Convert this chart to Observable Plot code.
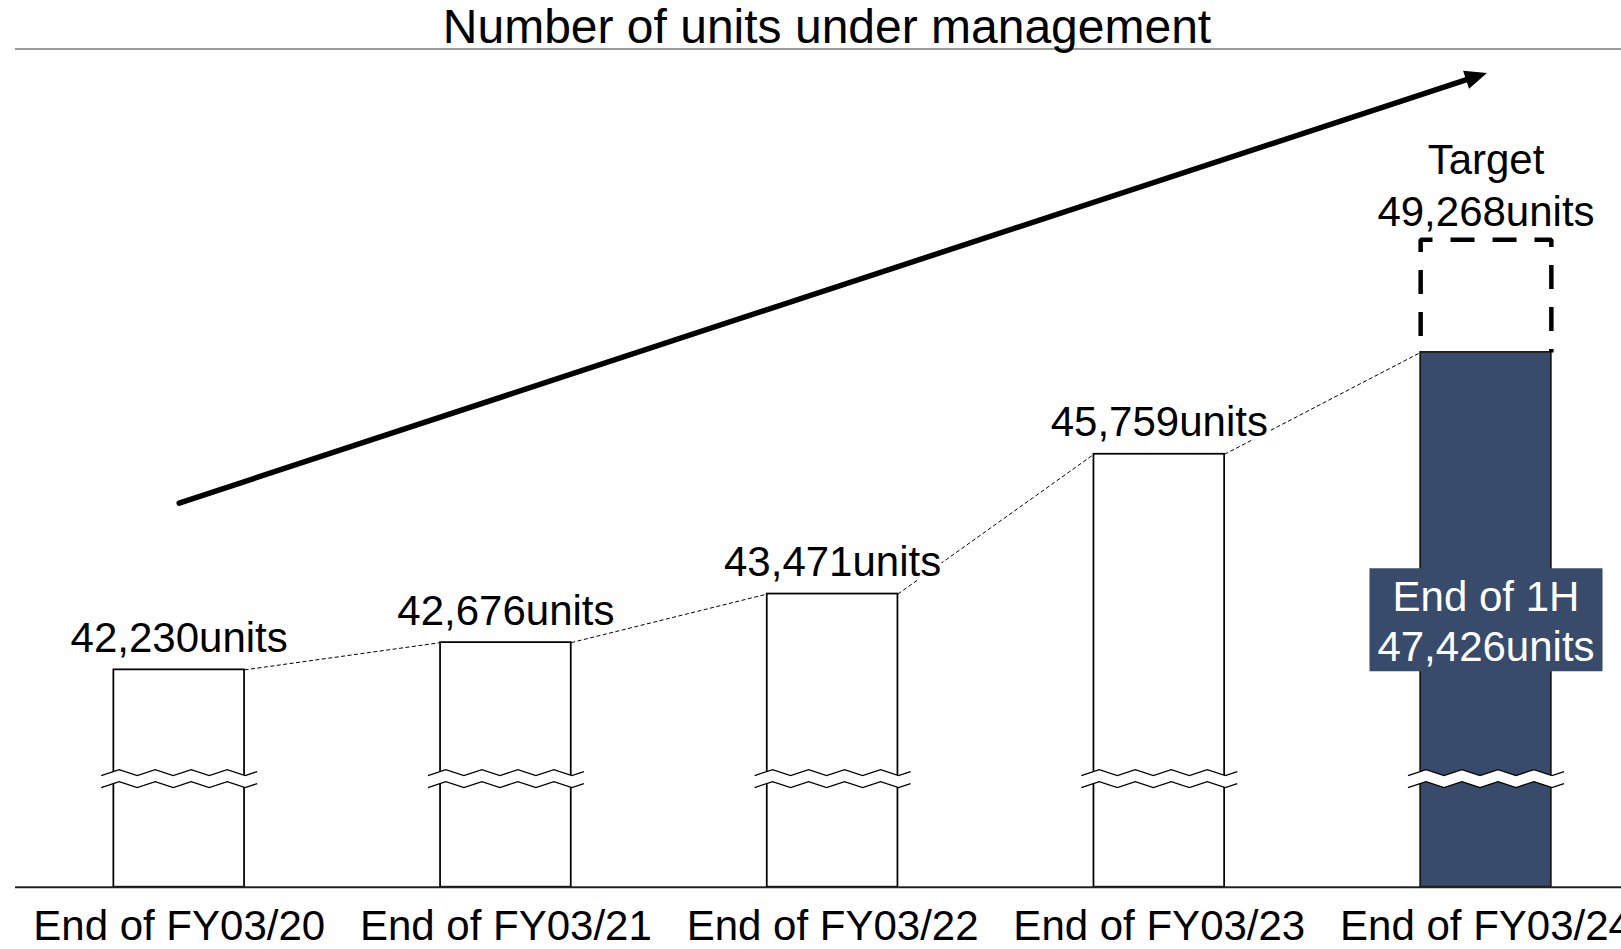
<!DOCTYPE html>
<html>
<head>
<meta charset="utf-8">
<script src="https://cdn.jsdelivr.net/npm/d3@7"></script>
<script src="https://cdn.jsdelivr.net/npm/@observablehq/plot@0.6"></script>
<style>
  html, body { margin: 0; padding: 0; background: #fff; overflow: hidden; width: 1621px; height: 949px; }
  #title {
    box-sizing: content-box;
    height: 45px; padding-top: 3px; padding-left: 18px; margin-left: 15px;
    border-bottom: 2px solid #9b9b9b;
    font-family: "Liberation Sans", Arial, sans-serif; font-size: 48px; line-height: 48px;
    text-align: center; color: #000; white-space: nowrap;
  }
  #chart svg { display: block; }
</style>
</head>
<body>
<div id="title">Number of units under management</div>
<div id="chart"></div>
<script>
// ---- data ----
const categories = ["End of FY03/20", "End of FY03/21", "End of FY03/22", "End of FY03/23", "End of FY03/24"];
const units = [42230, 42676, 43471, 45759, 47426];
const targetUnits = 49268;
const unitSuffix = "units";
const targetCaption = "Target";
const halfYearCaption = "End of 1H";
// broken value axis: hidden floor and the level of the break marks
const scaleFloor = 38673;
const axisBreakUnits = 40451;
// trend arrow annotation (category index, units)
const trendArrow = [{from: 0, to: 4, fromUnits: 44960, toUnits: 51995}];

// ---- scale configuration & styles ----
const xDomain = [-0.5, 4.5], xRange = [15.35, 1648.85];
const yDomain = [scaleFloor, 52007], yRange = [836.7, 22];
const navy = "#384b6b";
const barHalf = 0.2;
const fmt = d3.format(",");

const rows = categories.map((c, i) => ({i, category: c, units: units[i], label: fmt(units[i]) + unitSuffix, last: i === units.length - 1}));
const pastRows = rows.filter(d => !d.last);
const currentRows = rows.filter(d => d.last);
const pairs = rows.slice(0, -1).map((d, k) => ({...d, next: rows[k + 1].units}));
const cur = currentRows[0];
const targetOutline = [
  {x: cur.i - barHalf, y: cur.units},
  {x: cur.i - barHalf, y: targetUnits},
  {x: cur.i + barHalf, y: targetUnits},
  {x: cur.i + barHalf, y: cur.units}
];
const targetRows = [{i: cur.i, units: targetUnits, text: targetCaption + "\n" + fmt(targetUnits) + unitSuffix}];

// direction of the trend arrow on screen (for its filled head)
const sx = d3.scaleLinear(xDomain, xRange), sy = d3.scaleLinear(yDomain, yRange);
const ta = trendArrow[0];
const arrowAngle = Math.atan2(sy(ta.toUnits) - sy(ta.fromUnits), sx(ta.to) - sx(ta.from)) * 180 / Math.PI;

// custom symbols (pixel shapes)
function wave(offset, dir) {
  const pts = [];
  const half = 78, step = 18, amp = 3;
  for (let x = -half; x <= half + 0.01; x += step) {
    const k = Math.round((x + half) / step);
    pts.push([x, offset + (k % 2 === 0 ? amp : -amp)]);
  }
  if (pts[pts.length - 1][0] < half) {
    const [lx, ly] = pts[pts.length - 1];
    const ny = offset + (ly - offset > 0 ? -amp : amp);
    pts.push([half, ly + (ny - ly) * (half - lx) / step]);
  }
  return dir < 0 ? pts.slice().reverse() : pts;
}
const breakFill = {
  draw(ctx) {
    const up = wave(-6, 1), lo = wave(6, -1);
    ctx.moveTo(up[0][0], up[0][1]);
    for (const p of up.slice(1)) ctx.lineTo(p[0], p[1]);
    for (const p of lo) ctx.lineTo(p[0], p[1]);
    ctx.closePath();
  }
};
const breakLines = {
  draw(ctx) {
    for (const line of [wave(-6, 1), wave(6, 1)]) {
      ctx.moveTo(line[0][0], line[0][1]);
      for (const p of line.slice(1)) ctx.lineTo(p[0], p[1]);
    }
  }
};
const boxSymbol = { draw(ctx) { ctx.rect(-116.5, -51.5, 233, 103); } };
// arrowhead pointing along +x with its tip at the origin; rotated by Plot
const headSymbol = { draw(ctx) { ctx.moveTo(1, 0); ctx.lineTo(-21, -9.5); ctx.lineTo(-21, 9.5); ctx.closePath(); } };

const chart = Plot.plot({
  width: 1621,
  height: 899,
  marginLeft: 15,
  marginRight: 0,
  marginTop: 22,
  marginBottom: 62.3,
  style: {fontFamily: "'Liberation Sans', Arial, sans-serif", fontSize: "42px", color: "black", background: "white"},
  x: {type: "linear", domain: xDomain, range: xRange, axis: null},
  y: {domain: yDomain, range: yRange, axis: null},
  marks: [
    Plot.arrow(trendArrow, {x1: "from", y1: "fromUnits", x2: "to", y2: "toUnits", stroke: "black", strokeWidth: 5.5, headLength: 0, insetEnd: 14}),
    Plot.dot(trendArrow, {x: "to", y: "toUnits", symbol: headSymbol, rotate: arrowAngle, fill: "black", stroke: "none"}),
    Plot.rectY(pastRows, {x1: d => d.i - barHalf, x2: d => d.i + barHalf, y1: scaleFloor, y2: "units", fill: "white", stroke: "black", strokeWidth: 1.75}),
    Plot.rectY(currentRows, {x1: d => d.i - barHalf, x2: d => d.i + barHalf, y1: scaleFloor, y2: "units", fill: navy, stroke: "#1a1a1a", strokeWidth: 1.75}),
    Plot.dot(rows, {x: "i", y: () => axisBreakUnits, symbol: breakFill, fill: "white", stroke: "none"}),
    Plot.dot(rows, {x: "i", y: () => axisBreakUnits, symbol: breakLines, fill: "none", stroke: "black", strokeWidth: 1.3}),
    Plot.link(pairs, {x1: d => d.i + barHalf, y1: "units", x2: d => d.i + 1 - barHalf, y2: "next", stroke: "black", strokeWidth: 1, strokeDasharray: "4,2.5"}),
    Plot.line(targetOutline, {x: "x", y: "y", stroke: "black", strokeWidth: 4.5, strokeDasharray: "24,18", strokeDashoffset: 25.6, strokeLinejoin: "miter", strokeLinecap: "butt"}),
    Plot.ruleY([scaleFloor], {stroke: "#222", strokeWidth: 2}),
    Plot.text(pastRows, {x: "i", y: "units", text: "label", lineAnchor: "bottom", dy: -18, fontSize: 42, fill: "black", stroke: "white", strokeWidth: 8, strokeLinejoin: "round", paintOrder: "stroke", ariaLabel: "value-label"}),
    Plot.text(targetRows, {x: "i", y: "units", text: "text", lineAnchor: "bottom", dy: -14, lineHeight: 1.23, fontSize: 42, fill: "black", ariaLabel: "target-label"}),
    Plot.dot(currentRows, {x: "i", y: d => (scaleFloor + d.units) / 2, symbol: boxSymbol, fill: navy, stroke: "none"}),
    Plot.text(currentRows, {x: "i", y: d => (scaleFloor + d.units) / 2, text: d => halfYearCaption + "\n" + d.label, lineAnchor: "middle", lineHeight: 1.21, fontSize: 42, fill: "white"}),
    Plot.axisX({ticks: [0, 1, 2, 3, 4], tickFormat: i => categories[i], tickSize: 0, tickPadding: 23, fontSize: 42, label: null, ariaLabel: "category-axis"})
  ]
});

// slight vertical compression of some texts, as in the reference typography
function squash(selector, k) {
  chart.querySelectorAll(selector).forEach(el => {
    const t = el.getAttribute("transform");
    if (t) el.setAttribute("transform", t + ` scale(1,${k})`);
    else {
      const x = +el.getAttribute("x") || 0, y = +el.getAttribute("y") || 0;
      el.setAttribute("transform", `translate(${x},${y}) scale(1,${k}) translate(${-x},${-y})`);
    }
  });
}
squash('g[aria-label="value-label"] text', 0.87);
squash('g[aria-label="target-label"] text', 0.94);

document.getElementById("chart").appendChild(chart);
</script>
</body>
</html>
